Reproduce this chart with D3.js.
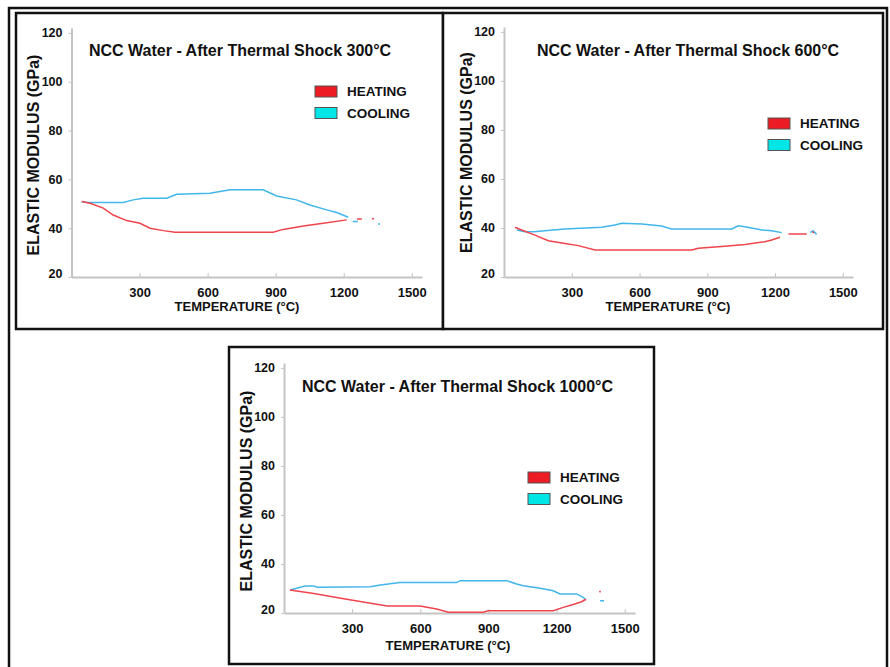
<!DOCTYPE html>
<html>
<head>
<meta charset="utf-8">
<script src="https://cdn.jsdelivr.net/npm/d3@7"></script>
<style>
  body { margin: 0; background: #fff; }
  text { font-family: "Liberation Sans", Arial, sans-serif; font-weight: bold; fill: #111; }
</style>
</head>
<body>
<script>
// values read off the three NCC water thermal shock plots (temperature in °C, modulus in GPa)
// null = gap in the recorded curve
const tickT = [300, 600, 900, 1200, 1500];
const tickE = [20, 40, 60, 80, 100, 120];
const legendLabels = ["HEATING", "COOLING"];

// shock 300°C
const heat300T = [45, 82, 140, 184, 243, 302, 346, 405, 456, 889, 933, 1022, 1110, 1213, null, 1258, 1280, null, 1324, 1333];
const heat300E = [50.9, 50.2, 48.2, 45.4, 43.1, 42.0, 40.0, 39.0, 38.3, 38.3, 39.5, 40.9, 42.0, 43.4, null, 43.8, 43.8, null, 43.9, 43.9];
const cool300T = [45, 67, 228, 272, 316, 420, 464, 610, 699, 845, 904, 992, 1051, 1125, 1169, 1220, null, 1240, 1262, null, 1351, 1360];
const cool300E = [50.9, 50.5, 50.5, 51.6, 52.3, 52.3, 53.9, 54.3, 55.7, 55.7, 53.2, 51.6, 49.5, 47.5, 46.4, 44.5, null, 42.7, 42.7, null, 41.7, 41.7];

// shock 600°C
const heat600T = [49, 78, 137, 196, 270, 329, 403, 831, 860, 964, 1067, 1155, 1185, 1222, null, 1259, 1340, null, 1365, 1372];
const heat600E = [40.3, 39.2, 37.1, 34.8, 33.7, 32.8, 31.0, 31.0, 31.7, 32.4, 33.3, 34.4, 35.1, 36.2, null, 37.5, 37.5, null, 38.5, 38.0];
const cool600T = [56, 93, 133, 181, 270, 432, 491, 521, 610, 698, 742, 1008, 1037, 1067, 1141, 1185, 1229, null, 1355, 1369, 1384];
const cool600E = [39.2, 38.5, 38.5, 38.9, 39.6, 40.3, 41.2, 41.9, 41.6, 40.8, 39.6, 39.6, 40.9, 40.5, 39.2, 38.9, 38.1, null, 38.2, 38.8, 37.4];

// shock 1000°C
const heat1000T = [26, 56, 131, 276, 454, 599, 672, 723, 877, 899, 1185, 1229, 1273, 1310, 1329, null, 1389, 1393];
const heat1000E = [29.4, 29.0, 28.0, 25.6, 22.9, 22.9, 21.6, 20.3, 20.3, 20.9, 20.9, 22.3, 23.5, 24.6, 25.6, null, 29.0, 28.4];
const cool1000T = [26, 56, 92, 131, 146, 380, 424, 511, 760, 775, 980, 1024, 1053, 1127, 1185, 1215, 1288, 1317, 1329, null, 1391, 1409];
const cool1000E = [29.4, 30.1, 31.0, 31.0, 30.5, 30.7, 31.4, 32.4, 32.4, 33.2, 33.2, 31.8, 31.1, 30.1, 29.1, 27.8, 27.8, 26.4, 25.3, null, 25.0, 25.0];

const heatColor = "#f0444c";
const coolColor = "#41b6ea";
const legendFill = ["#ec1c24", "#00e6e6"];
const axisGray = "#c4c4c4";

const svg = d3.select("body").append("svg")
    .attr("width", 890)
    .attr("height", 667)
    .style("background-color", "white");

// outer frame (bottom edge runs off the picture)
svg.append("rect")
    .attr("x", 9).attr("y", 8)
    .attr("width", 878).attr("height", 670)
    .attr("fill", "none").attr("stroke", "#111").attr("stroke-width", 2.5);

const zip = (ts, es) => ts.map((t, i) => [t, es[i]]);

const panels = [
  { title: "NCC Water - After Thermal Shock 300°C", box: [16, 13, 427, 316],
    x: [71.5, 422], y: [277, 28], titleX: 89, titleY: 56, legX: 315, legY: 86,
    xTitle: [237, 310.5], yTitle: [39, 155],
    heat: zip(heat300T, heat300E), cool: zip(cool300T, cool300E) },
  { title: "NCC Water - After Thermal Shock 600°C", box: [443, 13, 440, 316],
    x: [504, 853], y: [277, 27], titleX: 537, titleY: 56, legX: 768, legY: 118,
    xTitle: [668, 310.5], yTitle: [472, 152.5],
    heat: zip(heat600T, heat600E), cool: zip(cool600T, cool600E) },
  { title: "NCC Water - After Thermal Shock 1000°C", box: [229, 347, 425, 317],
    x: [284, 635], y: [613, 363], titleX: 302, titleY: 391.5, legX: 528, legY: 472,
    xTitle: [448, 649.5], yTitle: [252, 491],
    heat: zip(heat1000T, heat1000E), cool: zip(cool1000T, cool1000E) }
];

panels.forEach(p => {
  const g = svg.append("g");

  g.append("rect")
      .attr("x", p.box[0]).attr("y", p.box[1])
      .attr("width", p.box[2]).attr("height", p.box[3])
      .attr("fill", "white").attr("stroke", "#111").attr("stroke-width", 2.5);

  // domains a bit past the last tick so the axis lines overshoot like the original
  const x = d3.scaleLinear().domain([0, 1545]).range(p.x);
  const y = d3.scaleLinear().domain([20, 122]).range(p.y);

  const gx = g.append("g")
      .attr("transform", `translate(0,${p.y[0]})`)
      .call(d3.axisBottom(x).tickValues(tickT).tickFormat(d3.format("d"))
          .tickSizeInner(-4).tickSizeOuter(0).tickPadding(11));
  const gy = g.append("g")
      .attr("transform", `translate(${p.x[0]},0)`)
      .call(d3.axisLeft(y).tickValues(tickE).tickFormat(d3.format("d"))
          .tickSizeInner(3).tickSizeOuter(0).tickPadding(6));

  [gx, gy].forEach(a => {
    a.select(".domain").attr("stroke", axisGray).attr("stroke-width", 2);
    a.selectAll(".tick line").attr("stroke", axisGray).attr("stroke-width", 1);
    a.selectAll("text").attr("fill", "#111").style("font-family", '"Liberation Sans", Arial, sans-serif')
        .style("font-weight", "bold");
  });
  gx.selectAll("text").style("font-size", "13px");
  gy.selectAll("text").style("font-size", "12.5px");
  gy.selectAll(".tick").filter(d => d === 20).select("text").attr("dy", "0.05em");

  // curves
  const line = d3.line()
      .defined(d => d[0] != null && d[1] != null)
      .x(d => x(d[0]))
      .y(d => y(d[1]));

  g.append("path").datum(p.cool)
      .attr("d", line).attr("fill", "none")
      .attr("stroke", coolColor).attr("stroke-width", 1.5);
  g.append("path").datum(p.heat)
      .attr("d", line).attr("fill", "none")
      .attr("stroke", heatColor).attr("stroke-width", 1.5);

  // title
  g.append("text")
      .attr("x", p.titleX).attr("y", p.titleY)
      .style("font-size", "16px")
      .text(p.title);

  // axis titles
  g.append("text")
      .attr("x", p.xTitle[0]).attr("y", p.xTitle[1])
      .attr("text-anchor", "middle")
      .style("font-size", "13px")
      .text("TEMPERATURE (°C)");
  g.append("text")
      .attr("transform", `translate(${p.yTitle[0]},${p.yTitle[1]}) rotate(-90)`)
      .attr("text-anchor", "middle")
      .style("font-size", "16px")
      .text("ELASTIC MODULUS (GPa)");

  // legend
  const leg = g.selectAll(".leg")
      .data(legendLabels)
      .enter()
      .append("g")
      .attr("transform", (d, i) => `translate(${p.legX},${p.legY + i * 21.5})`);
  leg.append("rect")
      .attr("width", 22).attr("height", 11)
      .attr("fill", (d, i) => legendFill[i])
      .attr("stroke", "#555").attr("stroke-width", 1);
  leg.append("text")
      .attr("x", 32).attr("y", 10)
      .style("font-size", "13.5px")
      .text(d => d);
});
</script>
</body>
</html>
